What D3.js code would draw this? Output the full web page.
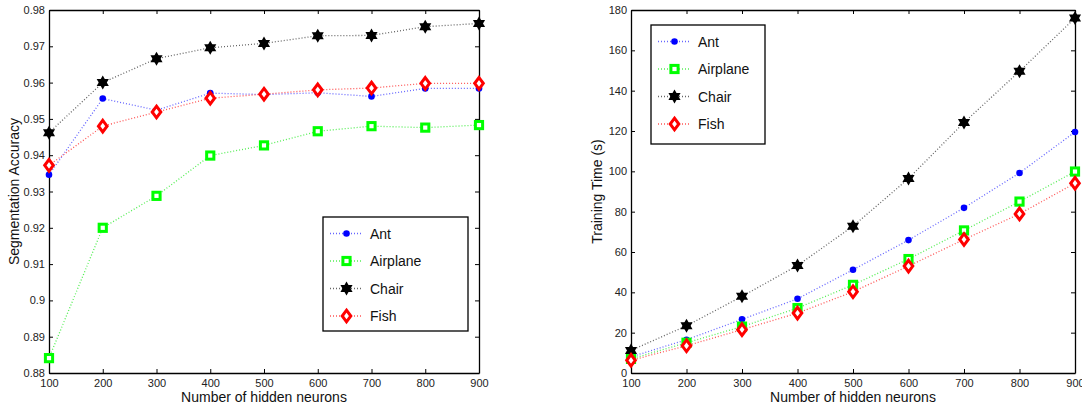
<!DOCTYPE html>
<html lang="en">
<head>
    <meta charset="UTF-8">
    <title>Accuracy and training time vs hidden neurons</title>
    <style>
        body {
            margin: 0;
            background: #fff;
            font-family: 'Liberation Sans', Arial, Helvetica, sans-serif;
        }

        .axis text {
            font-size: 11px;
            fill: #222;
        }

        .axis line, .axis path {
            stroke: #000;
        }

        .label {
            font-size: 14px;
            fill: #111;
        }

        .legend text {
            font-size: 14px;
            fill: #111;
        }

        .series {
            fill: none;
            stroke-width: 1.3;
            stroke-dasharray: 1, 2;
        }
    </style>
</head>
<body>
    <div id="plot"></div>

    <script src="https://d3js.org/d3.v7.min.js"></script>
    <script>
        const neurons = [100, 200, 300, 400, 500, 600, 700, 800, 900];
        const seriesNames = ["Ant", "Airplane", "Chair", "Fish"];

        // segmentation accuracy (left chart)
        const accAnt = [0.9346, 0.9556, 0.9524, 0.9571, 0.9567, 0.9572, 0.9562, 0.9584, 0.9584];
        const accAirplane = [0.8841, 0.9200, 0.9288, 0.9399, 0.9427, 0.9466, 0.9480, 0.9476, 0.9483];
        const accChair = [0.9462, 0.9600, 0.9666, 0.9696, 0.9708, 0.9729, 0.9730, 0.9754, 0.9763];
        const accFish = [0.9372, 0.9480, 0.9519, 0.9557, 0.9568, 0.9580, 0.9585, 0.9598, 0.9598];

        // training time in seconds (right chart)
        const timeAnt = [8.0, 16.5, 26.6, 36.8, 51.2, 65.9, 81.9, 99.2, 119.5];
        const timeAirplane = [7.0, 15.0, 23.0, 32.2, 43.7, 56.5, 70.7, 85.0, 99.9];
        const timeChair = [11.2, 23.4, 38.0, 53.3, 72.8, 96.4, 124.2, 149.6, 176.0];
        const timeFish = [6.3, 13.5, 21.5, 29.7, 40.3, 53.0, 66.2, 78.9, 94.1];

        const accTicks = [0.88, 0.89, 0.9, 0.91, 0.92, 0.93, 0.94, 0.95, 0.96, 0.97, 0.98];
        const timeTicks = [0, 20, 40, 60, 80, 100, 120, 140, 160, 180];

        const styles = {
            Ant: { line: "#6666ff", fill: "#0000ff", symbol: "circle" },
            Airplane: { line: "#55ee55", fill: "#00ff00", symbol: "square" },
            Chair: { line: "#666", fill: "#000", symbol: "hexagram" },
            Fish: { line: "#ff5555", fill: "#ff0000", symbol: "diamond" }
        };

        const svg = d3.select('#plot')
            .append('svg')
            .attr('width', 1082)
            .attr('height', 406);

        // draws one marker centred on (x, y)
        const drawMarker = (g, name, x, y) => {
            const s = styles[name];
            if (s.symbol === "circle") {
                g.append('circle')
                    .attr('cx', x).attr('cy', y).attr('r', 3.3)
                    .attr('fill', s.fill);
            } else if (s.symbol === "square") {
                g.append('rect')
                    .attr('x', x - 3.6).attr('y', y - 3.6)
                    .attr('width', 7.2).attr('height', 7.2)
                    .attr('fill', '#fff')
                    .attr('stroke', s.fill)
                    .attr('stroke-width', 3);
            } else if (s.symbol === "diamond") {
                g.append('path')
                    .attr('d', `M${x},${y - 5.8}L${x + 4.3},${y}L${x},${y + 5.8}L${x - 4.3},${y}Z`)
                    .attr('fill', '#fff')
                    .attr('stroke', s.fill)
                    .attr('stroke-width', 3);
            } else {
                // star of david: two overlapping triangles
                const r = 7;
                const tri = (rot) => d3.range(3).map(i => {
                    const a = rot + i * 2 * Math.PI / 3;
                    return [x + r * Math.sin(a), y - r * Math.cos(a)];
                });
                [0, Math.PI].forEach(rot => {
                    g.append('path')
                        .attr('d', d3.line()(tri(rot)) + 'Z')
                        .attr('fill', s.fill);
                });
            }
        };

        const drawChart = (opts) => {
            const { left, right, top, bottom } = opts;

            const x = d3.scaleLinear().domain([100, 900]).range([left, right]);
            const y = d3.scaleLinear().domain(opts.yDomain).range([bottom, top]);

            const g = svg.append('g');

            // axes with inward ticks on all four sides
            g.append('g')
                .attr('class', 'axis')
                .attr('transform', `translate(0, ${bottom})`)
                .call(d3.axisBottom(x).tickValues(neurons).tickSizeInner(-4).tickSizeOuter(0).tickPadding(6).tickFormat(d3.format('d')));
            g.append('g')
                .attr('class', 'axis')
                .attr('transform', `translate(0, ${top})`)
                .call(d3.axisTop(x).tickValues(neurons).tickSizeInner(-4).tickSizeOuter(0).tickFormat(''));
            g.append('g')
                .attr('class', 'axis')
                .attr('transform', `translate(${left}, 0)`)
                .call(d3.axisLeft(y).tickValues(opts.yTicks).tickSizeInner(-4).tickSizeOuter(0).tickPadding(4).tickFormat(opts.yFormat));
            g.append('g')
                .attr('class', 'axis')
                .attr('transform', `translate(${right}, 0)`)
                .call(d3.axisRight(y).tickValues(opts.yTicks).tickSizeInner(-4).tickSizeOuter(0).tickFormat(''));

            g.selectAll('.axis path').attr('stroke-width', 1.3);

            // series
            const line = d3.line()
                .x((d, i) => x(neurons[i]))
                .y(d => y(d));

            seriesNames.forEach(name => {
                const values = opts.data[name];
                g.append('path')
                    .attr('class', 'series')
                    .attr('stroke', styles[name].line)
                    .attr('d', line(values));
                values.forEach((v, i) => drawMarker(g, name, x(neurons[i]), y(v)));
            });

            // axis labels
            g.append('text')
                .attr('class', 'label')
                .attr('x', (left + right) / 2)
                .attr('y', bottom + 29)
                .attr('text-anchor', 'middle')
                .text('Number of hidden neurons');

            g.append('text')
                .attr('class', 'label')
                .attr('transform', `translate(${opts.yLabelX}, ${(top + bottom) / 2}) rotate(-90)`)
                .attr('text-anchor', 'middle')
                .text(opts.yLabel);

            // legend
            const lg = g.append('g').attr('class', 'legend');
            const L = opts.legend;
            lg.append('rect')
                .attr('x', L.x).attr('y', L.y)
                .attr('width', L.w).attr('height', L.h)
                .attr('fill', '#fff')
                .attr('stroke', '#000')
                .attr('stroke-width', 1.3);

            seriesNames.forEach((name, i) => {
                const cy = L.y + 16.5 + i * 27.5;
                lg.append('line')
                    .attr('class', 'series')
                    .attr('x1', L.x + 7).attr('x2', L.x + 40)
                    .attr('y1', cy).attr('y2', cy)
                    .attr('stroke', styles[name].line);
                drawMarker(lg, name, L.x + 23.5, cy);
                lg.append('text')
                    .attr('x', L.x + 47)
                    .attr('y', cy + 5)
                    .text(name);
            });
        };

        drawChart({
            left: 49, right: 479, top: 10, bottom: 373,
            yDomain: [0.88, 0.98],
            yTicks: accTicks,
            yFormat: d => String(+d.toFixed(2)),
            yLabel: 'Segmentation Accuracy',
            yLabelX: 19,
            data: { Ant: accAnt, Airplane: accAirplane, Chair: accChair, Fish: accFish },
            legend: { x: 323, y: 217, w: 145, h: 114 }
        });

        drawChart({
            left: 631, right: 1075, top: 10, bottom: 373,
            yDomain: [0, 180],
            yTicks: timeTicks,
            yFormat: d3.format('d'),
            yLabel: 'Training Time (s)',
            yLabelX: 602,
            data: { Ant: timeAnt, Airplane: timeAirplane, Chair: timeChair, Fish: timeFish },
            legend: { x: 651, y: 25, w: 114, h: 119 }
        });
    </script>
</body>
</html>
